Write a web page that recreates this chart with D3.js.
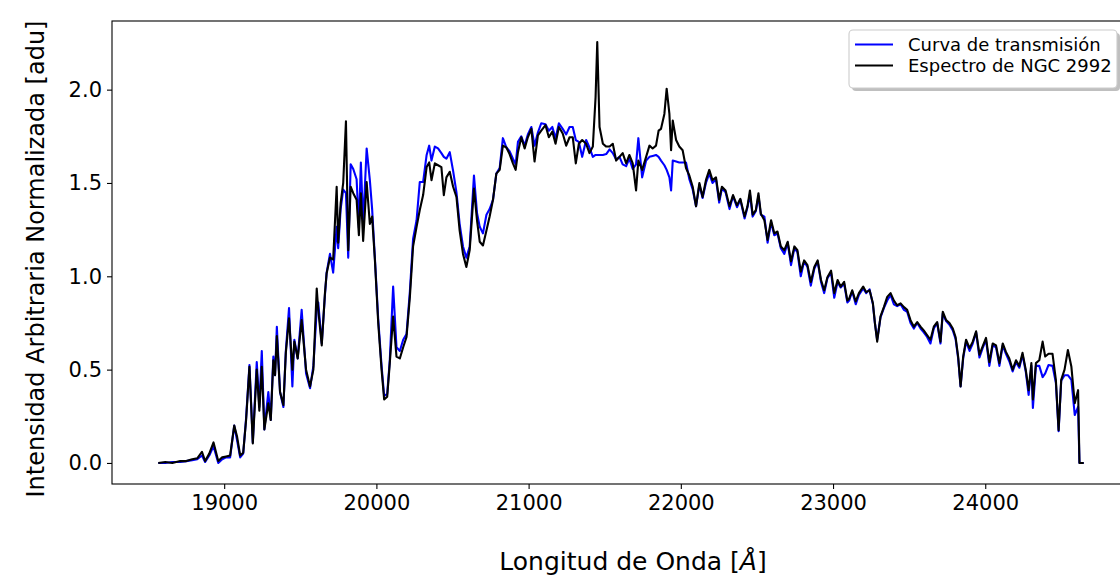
<!DOCTYPE html>
<html><head><meta charset="utf-8">
<script src="https://cdn.jsdelivr.net/npm/d3@7"></script>
<style>body{margin:0;background:#fff}svg{display:block}text{font-family:"DejaVu Sans",sans-serif;fill:#000}</style>
</head><body><svg id="c" width="1120" height="576"></svg>
<script>
const wavelength = [
18567,18613,18659,18711,18751,18790,18823,18854,18875,18902,
18930,18961,18987,19013,19039,19066,19085,19105,19125,19144,
19166,19188,19214,19231,19247,19264,19290,19306,19323,19334,
19346,19367,19389,19405,19426,19448,19461,19483,19509,19538,
19564,19586,19608,19618,19641,19662,19673,19695,19716,19739,
19749,19765,19782,19800,19815,19831,19848,19870,19885,19898,
19913,19936,19957,19972,19990,20012,20034,20051,20071,20088,
20110,20132,20154,20176,20198,20220,20241,20264,20285,20307,
20330,20347,20362,20384,20405,20427,20443,20460,20482,20504,
20526,20547,20569,20591,20613,20641,20661,20679,20700,20723,
20744,20766,20788,20810,20831,20854,20875,20897,20915,20930,
20952,20974,20995,21018,21039,21061,21083,21111,21133,21156,
21177,21199,21224,21247,21269,21290,21310,21330,21352,21378,
21400,21422,21440,21451,21466,21488,21510,21532,21553,21575,
21597,21618,21641,21662,21684,21706,21721,21746,21772,21794,
21815,21837,21854,21870,21892,21907,21925,21936,21947,21969,
21990,22012,22034,22056,22078,22100,22122,22143,22165,22187,
22208,22231,22252,22270,22294,22320,22343,22369,22391,22419,
22438,22454,22472,22493,22510,22526,22549,22570,22593,22614,
22635,22657,22680,22702,22724,22746,22766,22788,22810,22832,
22854,22877,22899,22921,22942,22963,22987,23008,23030,23050,
23073,23094,23106,23126,23149,23170,23198,23218,23240,23262,
23275,23290,23312,23334,23356,23378,23400,23421,23444,23466,
23487,23509,23531,23553,23575,23596,23618,23640,23662,23684,
23706,23721,23743,23765,23787,23805,23822,23838,23855,23874,
23897,23918,23940,23962,23983,24005,24027,24049,24071,24093,
24115,24136,24158,24180,24202,24224,24245,24266,24285,24303,
24313,24333,24355,24377,24394,24416,24442,24464,24482,24499,
24521,24543,24566,24588,24610,24619,24647];

const transmission = [
0.0,0.0,0.005,0.005,0.01,0.015,0.02,0.04,0.005,0.04,
0.09,0.0,0.02,0.03,0.03,0.2,0.12,0.03,0.05,0.24,
0.525,0.11,0.54,0.3,0.6,0.18,0.38,0.23,0.57,0.47,
0.73,0.38,0.3,0.6,0.83,0.41,0.66,0.56,0.82,0.48,
0.4,0.52,0.82,0.86,0.64,0.9,1.02,1.12,1.02,1.265,
1.15,1.36,1.465,1.445,1.1,1.6,1.575,1.52,1.26,1.61,
1.28,1.685,1.515,1.36,1.1,0.77,0.52,0.36,0.37,0.55,
0.945,0.62,0.6,0.66,0.69,0.92,1.2,1.3,1.505,1.505,
1.65,1.7,1.62,1.695,1.685,1.66,1.64,1.63,1.665,1.565,
1.45,1.28,1.16,1.1,1.16,1.54,1.34,1.265,1.23,1.33,
1.36,1.41,1.55,1.58,1.74,1.69,1.67,1.63,1.6,1.72,
1.75,1.7,1.76,1.8,1.7,1.77,1.82,1.815,1.78,1.8,
1.74,1.82,1.79,1.76,1.8,1.8,1.73,1.72,1.64,1.73,
1.69,1.64,1.65,1.65,1.65,1.65,1.655,1.68,1.66,1.625,
1.64,1.6,1.59,1.63,1.575,1.6,1.74,1.53,1.62,1.64,
1.645,1.65,1.64,1.62,1.595,1.57,1.53,1.46,1.62,1.615,
1.61,1.61,1.61,1.52,1.465,1.375,1.49,1.42,1.5,1.55,
1.5,1.52,1.395,1.47,1.45,1.36,1.43,1.37,1.41,1.31,
1.37,1.44,1.32,1.35,1.43,1.33,1.32,1.18,1.29,1.22,
1.23,1.15,1.12,1.18,1.06,1.15,1.13,1.0,1.08,1.05,
0.95,1.04,1.08,0.97,0.91,0.99,1.02,0.885,0.97,0.94,
0.96,0.86,0.87,0.92,0.85,0.9,0.935,0.91,0.93,0.85,
0.75,0.66,0.78,0.83,0.87,0.9,0.85,0.84,0.85,0.82,
0.81,0.75,0.72,0.75,0.72,0.7,0.675,0.64,0.72,0.75,
0.64,0.8,0.76,0.74,0.71,0.665,0.56,0.41,0.56,0.65,
0.6,0.64,0.7,0.565,0.615,0.66,0.52,0.63,0.62,0.52,
0.63,0.585,0.545,0.49,0.54,0.51,0.58,0.49,0.365,0.52,
0.295,0.52,0.52,0.46,0.48,0.525,0.52,0.43,0.17,0.44,
0.47,0.47,0.445,0.257,0.3,0.0,0.0];

const spectrum = [
0.0,0.005,0.0,0.01,0.01,0.02,0.025,0.06,0.01,0.05,
0.11,0.01,0.03,0.035,0.04,0.2,0.14,0.04,0.055,0.23,
0.515,0.105,0.5,0.28,0.515,0.18,0.32,0.23,0.55,0.47,
0.68,0.38,0.31,0.59,0.775,0.5,0.65,0.56,0.765,0.5,
0.41,0.5,0.935,0.82,0.63,0.91,1.015,1.1,1.09,1.48,
1.18,1.39,1.5,1.83,1.14,1.48,1.445,1.41,1.22,1.445,
1.19,1.505,1.28,1.32,1.09,0.75,0.5,0.34,0.355,0.535,
0.785,0.57,0.56,0.62,0.675,0.89,1.16,1.265,1.355,1.435,
1.585,1.61,1.515,1.605,1.595,1.585,1.435,1.53,1.56,1.48,
1.425,1.245,1.12,1.05,1.14,1.47,1.3,1.185,1.165,1.245,
1.32,1.41,1.55,1.57,1.7,1.69,1.655,1.605,1.57,1.665,
1.745,1.685,1.745,1.79,1.615,1.755,1.78,1.81,1.745,1.775,
1.71,1.8,1.765,1.7,1.745,1.745,1.605,1.71,1.73,1.71,
1.66,1.695,1.96,2.255,1.8,1.71,1.695,1.695,1.71,1.62,
1.64,1.66,1.605,1.65,1.605,1.46,1.62,1.57,1.64,1.7,
1.685,1.7,1.78,1.79,1.87,2.005,1.87,1.675,1.835,1.73,
1.695,1.675,1.58,1.54,1.48,1.375,1.5,1.425,1.515,1.57,
1.515,1.53,1.41,1.48,1.46,1.375,1.435,1.38,1.415,1.32,
1.375,1.46,1.33,1.355,1.445,1.335,1.3,1.195,1.3,1.23,
1.24,1.16,1.14,1.185,1.08,1.16,1.14,1.025,1.085,1.06,
0.97,1.05,1.085,0.98,0.925,0.995,1.03,0.91,0.98,0.945,
0.97,0.87,0.88,0.925,0.865,0.91,0.945,0.915,0.925,0.855,
0.75,0.65,0.785,0.835,0.89,0.91,0.87,0.845,0.855,0.835,
0.82,0.765,0.73,0.755,0.73,0.71,0.685,0.66,0.73,0.755,
0.65,0.81,0.765,0.75,0.72,0.675,0.57,0.41,0.57,0.66,
0.615,0.65,0.705,0.58,0.625,0.67,0.54,0.64,0.63,0.535,
0.64,0.595,0.56,0.5,0.55,0.52,0.59,0.5,0.39,0.535,
0.34,0.535,0.55,0.65,0.57,0.585,0.585,0.445,0.175,0.445,
0.5,0.605,0.515,0.32,0.39,0.0,0.0];

const xTicks = [19000,20000,21000,22000,23000,24000];
const yTicks = [0.0,0.5,1.0,1.5,2.0];
const seriesNames = ["Curva de transmisión","Espectro de NGC 2992"];
const seriesColors = ["#0000ff","#000000"];
const yLabel = "Intensidad Arbitraria Normalizada [adu]";

const svg = d3.select("#c");
svg.append("rect").attr("width",1120).attr("height",576).attr("fill","#fff");
const m = {left:112, top:21, right:1130, bottom:484};

const xExt = d3.extent(wavelength), xPad = (xExt[1]-xExt[0])*0.05;
const x = d3.scaleLinear().domain([xExt[0]-xPad, xExt[1]+xPad]).range([m.left, m.right]);
const yExt = d3.extent(spectrum.concat(transmission)), yPad = (yExt[1]-yExt[0])*0.05;
const y = d3.scaleLinear().domain([yExt[0]-yPad, yExt[1]+yPad]).range([m.bottom, m.top]);

svg.append("clipPath").attr("id","clip").append("rect")
  .attr("x",m.left).attr("y",m.top).attr("width",m.right-m.left).attr("height",m.bottom-m.top);

const line = d3.line().x(d=>x(d[0])).y(d=>y(d[1]));
const g = svg.append("g").attr("clip-path","url(#clip)");
[transmission, spectrum].forEach((vals,i)=>{
  g.append("path").datum(wavelength.map((w,k)=>[w,vals[k]]))
   .attr("d",line).attr("fill","none").attr("stroke",seriesColors[i])
   .attr("stroke-width",2.1).attr("stroke-linejoin","round");
});

// axes
const xAxis = d3.axisBottom(x).tickValues(xTicks).tickSize(5).tickPadding(5).tickFormat(d3.format("d"));
const gx = svg.append("g").attr("transform",`translate(0,${m.bottom})`).call(xAxis);
const yAxis = d3.axisLeft(y).tickValues(yTicks).tickSize(5).tickPadding(5).tickFormat(d3.format(".1f"));
const gy = svg.append("g").attr("transform",`translate(${m.left},0)`).call(yAxis);
[gx,gy].forEach(a=>{
  a.select(".domain").remove();
  a.selectAll(".tick line").attr("stroke","#000").attr("stroke-width",1.1);
  a.selectAll(".tick text").attr("font-size",21).attr("font-family","DejaVu Sans").attr("fill","#000");
});
gx.selectAll(".tick text").attr("dy","0.76em");

// spines
svg.append("rect").attr("x",m.left).attr("y",m.top).attr("width",m.right-m.left).attr("height",m.bottom-m.top)
  .attr("fill","none").attr("stroke","#000").attr("stroke-width",1.1);

// labels
const xl = svg.append("text").attr("x",633).attr("y",570).attr("text-anchor","middle").attr("font-size",25);
xl.append("tspan").text("Longitud de Onda [");
xl.append("tspan").attr("font-style","italic").text("Å");
xl.append("tspan").text("]");
svg.append("text").attr("transform",`translate(36,259) rotate(-90)`)
  .attr("text-anchor","middle").attr("dy","0.35em").attr("font-size",24).text(yLabel);

// legend
const lg = svg.append("g");
const L = {x:849, y:30, w:268, h:58};
lg.append("rect").attr("x",L.x+3).attr("y",L.y+3).attr("width",L.w).attr("height",L.h).attr("rx",4)
  .attr("fill","#808080").attr("opacity",0.5);
lg.append("rect").attr("x",L.x).attr("y",L.y).attr("width",L.w).attr("height",L.h).attr("rx",4)
  .attr("fill","#fff").attr("stroke","#cccccc").attr("stroke-width",1.1);
seriesNames.forEach((n,i)=>{
  const cy = L.y + 14.5 + i*21;
  lg.append("line").attr("x1",L.x+6).attr("x2",L.x+44).attr("y1",cy).attr("y2",cy)
    .attr("stroke",seriesColors[i]).attr("stroke-width",2.1);
  lg.append("text").attr("x",L.x+59).attr("y",cy).attr("dy","0.36em").attr("font-size",18).text(n);
});
</script></body></html>
